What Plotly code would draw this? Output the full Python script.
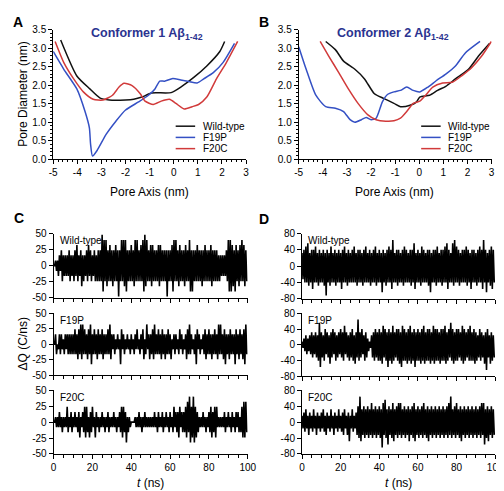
import plotly.graph_objects as go

# ---------------- Panel A / B data (pore profiles) ----------------
A_wt_x = [-4.69, -4.02, -3.48, -3.07, -2.67, -2.0, -1.66, -1.32, -0.92, -0.11, 0.29, 0.83, 1.37, 1.91, 2.11]
A_wt_y = [3.22, 2.25, 1.90, 1.66, 1.60, 1.60, 1.62, 1.68, 1.79, 1.80, 1.95, 2.21, 2.52, 2.91, 3.18]
A_f19p_x = [-5.0, -4.56, -4.02, -3.68, -3.5, -3.45, -3.37, -3.18, -2.80, -2.40, -2.0, -1.46, -1.05, -0.78, -0.58,
            -0.38, -0.04, 0.29, 0.63, 0.97, 1.24, 1.64, 2.04, 2.52]
A_f19p_y = [2.91, 2.43, 1.90, 1.29, 0.85, 0.41, 0.09, 0.24, 0.68, 1.03, 1.33, 1.55, 1.73, 1.90, 2.11,
            2.11, 2.18, 2.14, 2.10, 2.06, 2.17, 2.34, 2.61, 3.13]
A_f20c_x = [-4.92, -4.56, -4.15, -3.75, -3.34, -2.94, -2.54, -2.27, -2.06, -1.73, -1.39, -1.19, -0.85, -0.52,
            -0.18, 0.09, 0.43, 0.76, 1.03, 1.37, 1.77, 2.18, 2.65]
A_f20c_y = [3.18, 2.61, 2.17, 1.82, 1.62, 1.60, 1.73, 1.95, 2.05, 1.99, 1.77, 1.57, 1.48, 1.57,
            1.62, 1.51, 1.36, 1.42, 1.48, 1.68, 2.17, 2.61, 3.18]

B_wt_x = [-3.88, -3.48, -3.14, -2.67, -2.27, -1.86, -1.46, -1.05, -0.78, -0.38, -0.11, 0.02, 0.43, 0.76, 1.10,
          1.50, 2.04, 2.45, 2.92]
B_wt_y = [3.18, 2.96, 2.65, 2.43, 2.17, 1.77, 1.64, 1.51, 1.42, 1.46, 1.55, 1.68, 1.73, 1.86, 1.97,
          2.17, 2.43, 2.78, 3.13]
B_f19p_x = [-5.0, -4.69, -4.29, -3.88, -3.48, -3.14, -2.87, -2.67, -2.40, -2.20, -2.0, -1.79, -1.53, -1.32,
            -1.05, -0.78, -0.52, -0.25, 0.02, 0.36, 0.70, 1.10, 1.50, 1.91, 2.52]
B_f19p_y = [3.04, 2.43, 1.73, 1.42, 1.38, 1.29, 1.07, 1.00, 1.07, 1.13, 1.07, 1.11, 1.55, 1.75,
            1.82, 1.86, 1.95, 1.86, 1.82, 1.95, 2.12, 2.30, 2.52, 2.87, 3.18]
B_f20c_x = [-4.11, -3.75, -3.34, -2.94, -2.54, -2.13, -1.79, -1.39, -1.05, -0.78, -0.52, -0.25, 0.02, 0.29,
            0.56, 0.97, 1.37, 1.77, 2.18, 2.58, 2.99]
B_f20c_y = [3.18, 2.78, 2.34, 1.90, 1.51, 1.20, 1.07, 1.03, 1.04, 1.11, 1.29, 1.51, 1.57, 1.75,
            1.95, 2.06, 2.08, 2.26, 2.48, 2.78, 3.18]

pore_xticks = [-5, -4, -3, -2, -1, 0, 1, 2, 3]
pore_xtick_text = ["-5", "-4", "-3", "-2", "-1", "0", "1", "2", "3"]
pore_yticks = [0.0, 0.5, 1.0, 1.5, 2.0, 2.5, 3.0, 3.5]
pore_ytick_text = ["0.0", "0.5", "1.0", "1.5", "2.0", "2.5", "3.0", "3.5"]

# ---------------- Panel C / D data (per-ns upper / lower extremes) ----------------
C_wt_up = [0, 8, 8, 16, 24, 16, 16, 16, 24, 16,
           16, 24, 32, 16, 24, 16, 16, 24, 32, 24,
           16, 24, 16, 24, 24, 48, 40, 40, 24, 32,
           24, 24, 32, 24, 24, 40, 40, 40, 24, 24,
           32, 24, 40, 40, 24, 32, 40, 48, 40, 24,
           32, 32, 24, 24, 32, 32, 24, 24, 24, 24,
           24, 32, 40, 40, 24, 32, 24, 24, 32, 24,
           40, 24, 24, 24, 32, 24, 24, 24, 32, 24,
           24, 32, 24, 24, 24, 16, 16, 16, 16, 24,
           40, 40, 32, 24, 32, 24, 32, 40, 32, 24]
C_wt_lo = [0, -8, -16, -8, -24, -16, -16, -16, -24, -16,
           -24, -16, -24, -16, -32, -24, -16, -24, -16, -24,
           -16, -24, -24, -24, -24, -40, -24, -32, -24, -24,
           -32, -24, -24, -48, -24, -24, -32, -40, -24, -24,
           -24, -32, -24, -24, -24, -24, -40, -32, -24, -24,
           -32, -24, -24, -24, -32, -24, -24, -24, -48, -24,
           -24, -40, -24, -24, -32, -24, -24, -32, -24, -24,
           -40, -40, -24, -24, -24, -24, -32, -24, -24, -24,
           -24, -32, -24, -24, -24, -24, -16, -16, -16, -24,
           -40, -40, -32, -40, -24, -32, -24, -24, -32, -24]
C_f19p_up = [0, 16, 0, 16, 16, 8, 16, 16, 16, 16,
             16, 24, 16, 24, 32, 32, 24, 16, 24, 32,
             16, 24, 16, 24, 16, 24, 16, 16, 24, 32,
             16, 16, 8, 16, 8, 24, 16, 8, 16, 8,
             16, 8, 16, 24, 8, 16, 24, 8, 32, 16,
             16, 24, 32, 16, 24, 16, 24, 16, 16, 24,
             16, 8, 16, 16, 8, 24, 16, 8, 16, 24,
             32, 16, 8, 16, 24, 16, 8, 16, 24, 16,
             24, 16, 16, 24, 16, 32, 32, 16, 24, 16,
             16, 24, 16, 16, 24, 16, 24, 16, 24, 32]
C_f19p_lo = [0, -16, -8, -16, -8, -16, -8, -16, -16, -16,
             -16, -16, -24, -16, -24, -16, -16, -24, -16, -32,
             -16, -16, -24, -16, -16, -24, -16, -16, -16, -24,
             -8, -16, -8, -8, -32, -8, -16, -8, -8, -16,
             -8, -16, -8, -8, -16, -8, -24, -16, -8, -24,
             -16, -24, -16, -16, -16, -24, -16, -24, -16, -16,
             -24, -8, -16, -8, -16, -8, -16, -8, -24, -16,
             -16, -8, -16, -32, -8, -16, -8, -16, -24, -16,
             -16, -24, -16, -16, -24, -16, -16, -24, -32, -16,
             -24, -16, -16, -32, -16, -24, -16, -24, -32, -16]
C_f20c_up = [0, 8, 8, 16, 8, 8, 8, 24, 8, 16,
             8, 16, 8, 16, 8, 16, 24, 24, 8, 16,
             24, 8, 16, 8, 8, 16, 8, 8, 16, 8,
             8, 16, 8, 8, 16, 24, 24, 16, 8, 8,
             0, 0, 8, 8, 16, 8, 8, 16, 8, 8,
             8, 8, 16, 8, 16, 8, 16, 8, 16, 8,
             16, 8, 24, 16, 16, 24, 16, 16, 24, 32,
             40, 24, 40, 24, 16, 8, 8, 16, 8, 8,
             16, 24, 16, 24, 24, 8, 8, 8, 16, 8,
             16, 8, 16, 8, 16, 16, 8, 24, 32, 32]
C_f20c_lo = [0, -8, -8, -8, -16, -8, -8, -16, -8, -16,
             -8, -8, -16, -24, -8, -16, -24, -16, -24, -16,
             -8, -24, -8, -16, -8, -8, -16, -8, -16, -8,
             -8, -8, -16, -8, -16, -24, -16, -32, -16, -8,
             0, 0, -8, -8, -8, -16, -8, -8, -8, -8,
             -8, -8, -8, -16, -8, -8, -16, -8, -8, -16,
             -8, -16, -8, -16, -24, -8, -16, -16, -24, -16,
             -32, -24, -32, -24, -16, -8, -8, -8, -16, -8,
             -16, -24, -16, -24, -8, -8, -8, -8, -16, -8,
             -8, -16, -8, -16, -8, -16, -16, -24, -24, -16]

D_wt_up = [32, 40, 48, 56, 32, 40, 40, 48, 32, 40,
           32, 40, 32, 40, 32, 48, 32, 40, 32, 40,
           32, 40, 48, 32, 40, 32, 40, 48, 32, 40,
           40, 32, 40, 48, 32, 40, 32, 40, 48, 32,
           40, 32, 40, 32, 40, 48, 40, 64, 32, 40,
           40, 32, 40, 48, 40, 32, 40, 40, 56, 32,
           40, 32, 48, 40, 32, 40, 40, 32, 40, 40,
           48, 32, 40, 40, 48, 56, 40, 32, 56, 64,
           48, 40, 32, 40, 40, 48, 40, 32, 40, 40,
           32, 40, 48, 40, 64, 40, 32, 40, 48, 40]
D_wt_lo = [-32, -40, -40, -48, -40, -56, -40, -40, -48, -40,
           -40, -48, -72, -40, -48, -40, -40, -48, -40, -40,
           -56, -40, -40, -48, -40, -40, -40, -40, -48, -40,
           -40, -48, -40, -40, -40, -48, -40, -40, -48, -40,
           -40, -64, -40, -48, -40, -40, -56, -40, -40, -48,
           -40, -40, -48, -40, -40, -40, -48, -40, -56, -40,
           -40, -48, -40, -40, -40, -48, -64, -40, -40, -48,
           -40, -40, -48, -40, -40, -56, -40, -40, -48, -40,
           -40, -48, -40, -40, -40, -48, -40, -56, -40, -40,
           -48, -40, -40, -56, -40, -64, -40, -48, -56, -40]
D_f19p_up = [8, 16, 24, 16, 24, 32, 24, 32, 24, 56,
             32, 24, 40, 32, 24, 32, 40, 32, 24, 32,
             40, 32, 48, 32, 24, 32, 40, 24, 32, 64,
             32, 40, 24, 32, 16, 8, 24, 32, 40, 32,
             40, 32, 48, 40, 32, 40, 32, 48, 32, 40,
             40, 32, 48, 40, 32, 40, 48, 32, 40, 32,
             40, 32, 40, 48, 32, 40, 40, 32, 48, 40,
             40, 32, 40, 40, 48, 32, 40, 56, 40, 32,
             40, 40, 32, 48, 40, 32, 40, 48, 32, 40,
             32, 24, 40, 32, 24, 32, 40, 24, 32, 24]
D_f19p_lo = [-8, -16, -24, -16, -24, -32, -24, -32, -40, -56,
             -32, -40, -24, -32, -48, -32, -24, -40, -32, -24,
             -32, -40, -24, -32, -40, -32, -40, -48, -32, -40,
             -32, -24, -40, -32, -16, -8, -32, -40, -32, -40,
             -40, -48, -32, -40, -56, -40, -48, -40, -32, -40,
             -48, -56, -40, -40, -48, -40, -48, -40, -56, -40,
             -40, -48, -40, -48, -40, -40, -48, -40, -48, -40,
             -40, -48, -40, -40, -48, -40, -32, -40, -48, -40,
             -40, -32, -40, -48, -40, -32, -40, -40, -40, -48,
             -40, -32, -40, -32, -48, -64, -32, -48, -40, -32]
D_f20c_up = [16, 24, 32, 16, 24, 16, 32, 16, 24, 16,
             24, 32, 16, 24, 16, 32, 16, 24, 16, 32,
             16, 24, 32, 16, 24, 16, 32, 16, 24, 40,
             64, 32, 40, 32, 40, 32, 48, 32, 40, 32,
             40, 32, 48, 56, 32, 40, 32, 48, 32, 40,
             48, 48, 32, 40, 32, 40, 32, 40, 48, 32,
             40, 32, 40, 48, 32, 40, 32, 40, 32, 40,
             32, 40, 32, 40, 32, 40, 48, 64, 32, 40,
             48, 32, 40, 32, 40, 32, 40, 32, 40, 32,
             40, 32, 40, 48, 48, 32, 40, 32, 40, 32]
D_f20c_lo = [-16, -24, -16, -32, -16, -24, -16, -32, -16, -24,
             -16, -24, -32, -16, -24, -16, -32, -16, -24, -16,
             -24, -32, -16, -32, -48, -16, -24, -16, -32, -40,
             -48, -32, -40, -32, -40, -32, -40, -32, -40, -32,
             -40, -64, -32, -40, -56, -32, -40, -48, -32, -40,
             -32, -40, -32, -40, -32, -48, -32, -40, -48, -32,
             -40, -32, -40, -32, -40, -48, -32, -40, -32, -40,
             -32, -40, -32, -40, -32, -40, -32, -40, -32, -40,
             -32, -40, -48, -32, -40, -32, -40, -32, -40, -32,
             -40, -32, -40, -32, -56, -40, -48, -32, -40, -32]

time_ticks = [0, 20, 40, 60, 80, 100]
C_yticks = [-50, -25, 0, 25, 50]
C_ytick_text = ["-50", "-25", "0", "25", "50"]
D_yticks = [-80, -40, 0, 40, 80]
D_ytick_text = ["-80", "-40", "0", "40", "80"]
variant_names = ["Wild-type", "F19P", "F20C"]
variant_colors = ["#111111", "#3450c4", "#d13a3a"]

FONT = "Liberation Sans, Arial, sans-serif"
W, H = 504, 491


def px(x):
    return x / W


def py(y):
    return 1 - y / H


fig = go.Figure()

# ---------- Panels A and B ----------
pore_sets = [
    ("x", "y", [(A_wt_x, A_wt_y), (A_f19p_x, A_f19p_y), (A_f20c_x, A_f20c_y)]),
    ("x2", "y2", [(B_wt_x, B_wt_y), (B_f19p_x, B_f19p_y), (B_f20c_x, B_f20c_y)]),
]
for xa, ya, series in pore_sets:
    for (sx, sy), name, col in zip(series, variant_names, variant_colors):
        fig.add_trace(go.Scatter(x=sx, y=sy, mode="lines", name=name, xaxis=xa, yaxis=ya,
                                 line=dict(color=col, width=1.5, shape="spline", smoothing=0.6),
                                 showlegend=False))


def zig(up, lo):
    xs, ys = [], []
    for i, (u, l) in enumerate(zip(up, lo)):
        xs += [i, i + 0.5]
        ys += [u, l]
    return xs, ys


trace_sets = [
    ("x3", "y3", C_wt_up, C_wt_lo), ("x4", "y4", C_f19p_up, C_f19p_lo), ("x5", "y5", C_f20c_up, C_f20c_lo),
    ("x6", "y6", D_wt_up, D_wt_lo), ("x7", "y7", D_f19p_up, D_f19p_lo), ("x8", "y8", D_f20c_up, D_f20c_lo),
]
for xa, ya, up, lo in trace_sets:
    xs, ys = zig(up, lo)
    fig.add_trace(go.Scatter(x=xs, y=ys, mode="lines", xaxis=xa, yaxis=ya,
                             line=dict(color="black", width=1.6, simplify=False), showlegend=False))

axis_common = dict(showline=True, linecolor="black", linewidth=1, ticks="outside", ticklen=4,
                   tickcolor="black", tickwidth=1, showgrid=False, zeroline=False,
                   tickfont=dict(family=FONT, size=10, color="black"))

layout = dict(width=W, height=H, margin=dict(l=0, r=0, t=0, b=0),
              paper_bgcolor="white", plot_bgcolor="white", showlegend=False)

# A, B axes
for i, (x0, x1) in enumerate([(42.3, 240.3), (294.3, 492.3)]):
    sfx = "" if i == 0 else "2"
    layout["xaxis" + sfx] = dict(axis_common, domain=[px(x0), px(x1)], range=[-5, 3],
                                 tickvals=pore_xticks, ticktext=pore_xtick_text,
                                 anchor="y" + sfx,
                                 minor=dict(dtick=0.2, ticklen=2, ticks="outside", tickcolor="black", showgrid=False))
    layout["yaxis" + sfx] = dict(axis_common, domain=[py(149), py(16)], range=[0, 3.5],
                                 tickvals=pore_yticks, ticktext=pore_ytick_text,
                                 anchor="x" + sfx,
                                 minor=dict(dtick=0.1, ticklen=2, ticks="outside", tickcolor="black", showgrid=False))

# C, D axes
C_rows = [(225, 291), (306.7, 370.5), (385.7, 451)]
D_rows = [(225, 292), (306.7, 371.5), (385.7, 451)]
for col, (x0, x1, rows, yt, ytt, yr, first) in enumerate([
        (42.7, 242, C_rows, C_yticks, C_ytick_text, [-50, 50], 3),
        (297.7, 496, D_rows, D_yticks, D_ytick_text, [-80, 80], 6)]):
    for r, (top, bot) in enumerate(rows):
        n = str(first + r)
        last = (r == 2)
        layout["xaxis" + n] = dict(axis_common, domain=[px(x0), px(x1)], range=[0, 100],
                                   tickvals=time_ticks, showticklabels=last, anchor="y" + n,
                                   minor=dict(dtick=5, ticklen=3, ticks="outside", tickcolor="black", showgrid=False))
        layout["yaxis" + n] = dict(axis_common, domain=[py(bot), py(top)], range=yr,
                                   tickvals=yt, ticktext=ytt, anchor="x" + n)

fig.update_layout(**layout)

ann = []
# panel letters
for letter, x, y in [("A", 6, 8), ("B", 259, 8), ("C", 7, 209), ("D", 259, 210)]:
    ann.append(dict(text="<b>%s</b>" % letter, x=px(x), y=py(y), xref="paper", yref="paper",
                    showarrow=False, font=dict(family=FONT, size=14, color="black"),
                    xanchor="center", yanchor="middle"))
# titles
for txt, cx in [("Conformer 1 Aβ<sub>1-42</sub>", 139), ("Conformer 2 Aβ<sub>1-42</sub>", 391)]:
    ann.append(dict(text="<b>%s</b>" % txt, x=px(cx), y=py(20), xref="paper", yref="paper",
                    showarrow=False, font=dict(family=FONT, size=12.5, color="#2b3390"),
                    xanchor="center", yanchor="middle"))
# axis titles
for cx in [141, 393]:
    ann.append(dict(text="Pore Axis (nm)", x=px(cx), y=py(182), xref="paper", yref="paper",
                    showarrow=False, font=dict(family=FONT, size=12, color="black"),
                    xanchor="center", yanchor="middle"))
for cx in [142, 397]:
    ann.append(dict(text="<i>t</i> (ns)", x=px(cx), y=py(481), xref="paper", yref="paper",
                    showarrow=False, font=dict(family=FONT, size=12, color="black"),
                    xanchor="center", yanchor="middle"))
ann.append(dict(text="Pore Diameter (nm)", x=px(11), y=py(82), xref="paper", yref="paper",
                showarrow=False, textangle=-90, font=dict(family=FONT, size=12, color="black"),
                xanchor="center", yanchor="middle"))
ann.append(dict(text="ΔQ (C/ns)", x=px(11), y=py(338), xref="paper", yref="paper",
                showarrow=False, textangle=-90, font=dict(family=FONT, size=12, color="black"),
                xanchor="center", yanchor="middle"))
# legends (manual)
shapes = []
for lx in [168, 420]:
    for k, (name, colr) in enumerate(zip(variant_names, variant_colors)):
        yy = 115 + k * 11.5
        shapes.append(dict(type="line", xref="paper", yref="paper", x0=px(lx), x1=px(lx + 20),
                           y0=py(yy), y1=py(yy), line=dict(color=colr, width=1.5)))
        ann.append(dict(text=name, x=px(lx + 26), y=py(yy), xref="paper", yref="paper",
                        showarrow=False, font=dict(family=FONT, size=10, color="black"),
                        xanchor="left", yanchor="middle"))
# subpanel labels
for lx, rows in [(47, C_rows), (302, D_rows)]:
    for name, (top, bot) in zip(variant_names, rows):
        ann.append(dict(text=name, x=px(lx), y=py(top + 7), xref="paper", yref="paper",
                        showarrow=False, font=dict(family=FONT, size=10, color="black"),
                        xanchor="left", yanchor="middle"))

fig.update_layout(annotations=ann, shapes=shapes)
fig.write_html("out.html")
